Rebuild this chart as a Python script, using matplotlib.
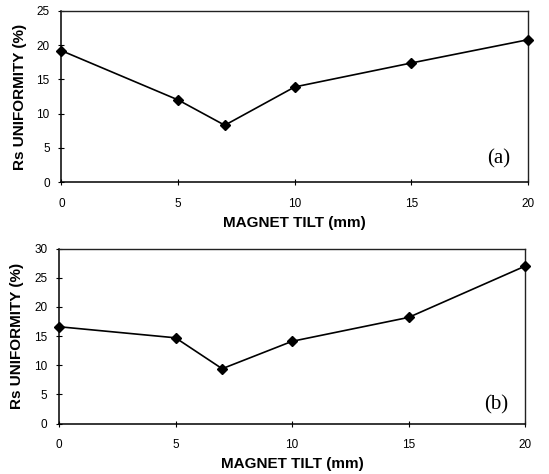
import matplotlib
matplotlib.use("Agg")
import matplotlib.pyplot as plt

tilt = [0, 5, 7, 10, 15, 20]
unif_a = [19.2, 12.0, 8.3, 13.9, 17.4, 20.8]
unif_b = [16.6, 14.7, 9.4, 14.1, 18.2, 27.0]
xticks = [0, 5, 10, 15, 20]
yticks_a = [0, 5, 10, 15, 20, 25]
yticks_b = [0, 5, 10, 15, 20, 25, 30]
xlabel = "MAGNET TILT (mm)"
ylabel_a = "Rs UNIFORMITY (%)"
ylabel_b = "Rs UNIFORMITY (%)"

fig = plt.figure(figsize=(5.49, 4.74), dpi=100)
fig.patch.set_facecolor("white")

specs = [
    ([0.112, 0.616, 0.8497, 0.3608], unif_a, yticks_a, ylabel_a, "(a)", 0.938, 0.134),
    ([0.1075, 0.1065, 0.849, 0.369], unif_b, yticks_b, ylabel_b, "(b)", 0.939, 0.106),
]

for rect, vals, yt, ylab, tag, tx, ty in specs:
    ax = fig.add_axes(rect)
    ax.plot(tilt, vals, color="black", lw=1.2, marker="D", markersize=5.5,
            markerfacecolor="black", clip_on=False, zorder=3)
    ax.set_xlim(0, 20)
    ax.set_ylim(yt[0], yt[-1])
    ax.set_xticks(xticks)
    ax.set_yticks(yt)
    ax.tick_params(direction="inout", length=5, width=0.8, labelsize=8.5,
                   colors="black")
    ax.tick_params(axis="x", pad=9)
    ax.tick_params(axis="y", pad=6)
    for lab in ax.get_xticklabels() + ax.get_yticklabels():
        lab.set_family("Liberation Sans")
    for s in ["left", "bottom"]:
        ax.spines[s].set_linewidth(1.1)
        ax.spines[s].set_color("black")
    for s in ["top", "right"]:
        ax.spines[s].set_linewidth(1.0)
        ax.spines[s].set_color("#222222")
    ax.set_xlabel(xlabel, fontsize=11, fontweight="bold",
                  family="Liberation Sans", labelpad=4)
    ax.set_ylabel(ylab, fontsize=11, fontweight="bold",
                  family="Liberation Sans", labelpad=7)
    ax.text(tx, ty, tag, transform=ax.transAxes, ha="center", va="center",
            fontsize=15, family="Liberation Serif")

fig.savefig("out.png", dpi=100, facecolor="white")
